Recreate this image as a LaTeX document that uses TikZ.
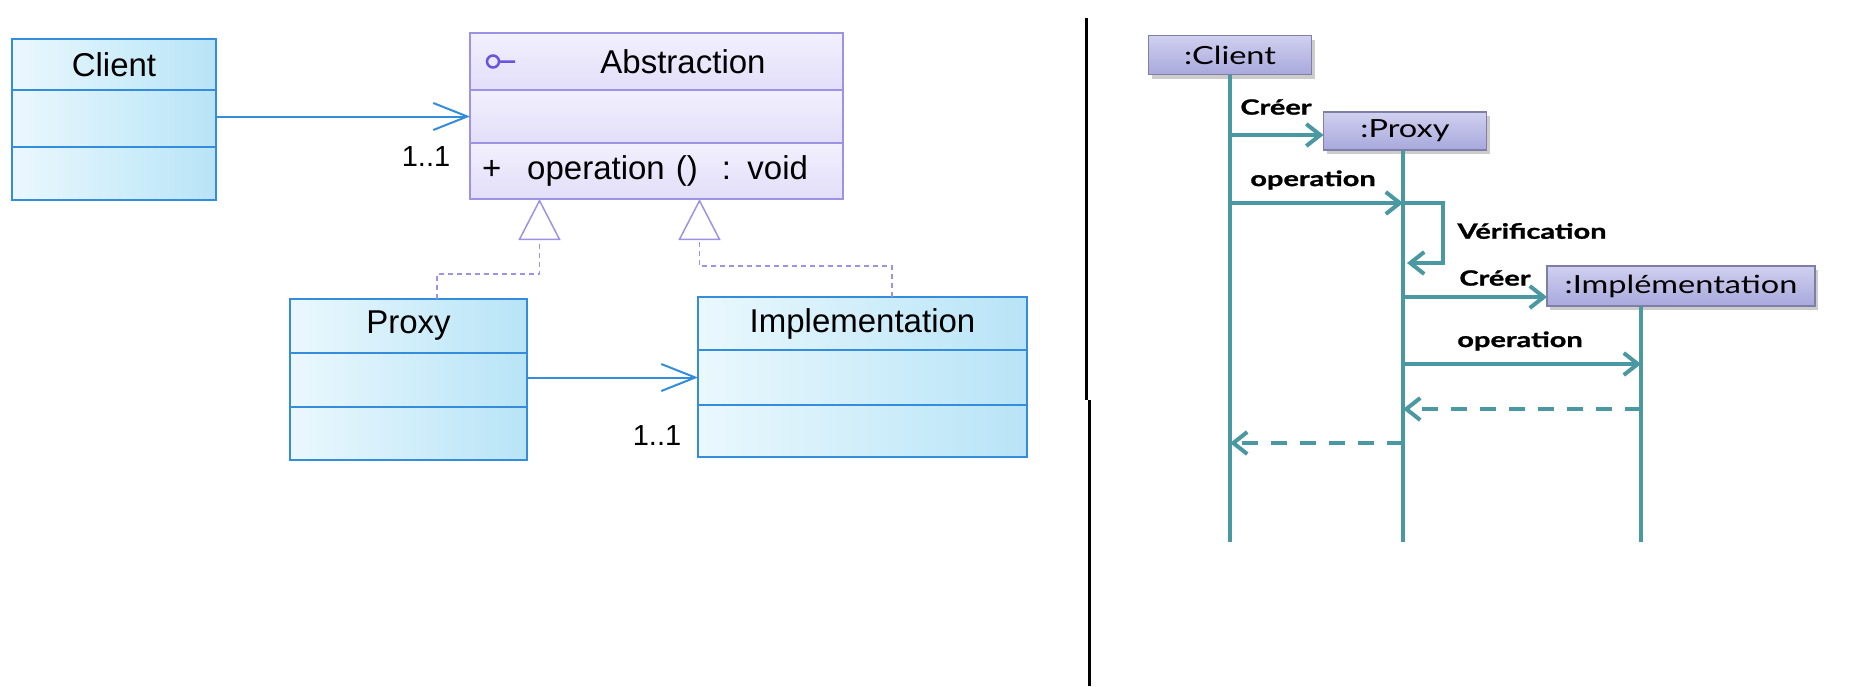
\documentclass[tikz,border=0pt]{standalone}
\usepackage{fontspec}
\setmainfont{Liberation Sans}
\newfontfamily\seqfont[FakeStretch=1.3]{Lato}
\newfontfamily\msgfont[FakeStretch=1.38,BoldFeatures={FakeBold=1.2}]{Lato}
\usetikzlibrary{arrows.meta}
\usetikzlibrary{positioning}
\usetikzlibrary{shadows}

\definecolor{clsline}{RGB}{52,140,220}
\definecolor{clslight}{RGB}{234,248,253}
\definecolor{clsdeep}{RGB}{184,228,247}
\definecolor{absline}{RGB}{158,146,230}
\definecolor{abslight}{RGB}{242,240,253}
\definecolor{absdeep}{RGB}{226,222,249}
\definecolor{absicon}{RGB}{104,84,222}
\definecolor{seqline}{RGB}{74,152,162}
\definecolor{objline}{RGB}{126,126,166}
\definecolor{objlight}{RGB}{208,208,240}
\definecolor{objdeep}{RGB}{168,168,220}

\begin{document}
\begin{tikzpicture}[x=1pt,y=-1pt]
		\tikzset{clspart/.style = {draw=clsline,line width=2pt,left color=clslight,right color=clsdeep,inner sep=0pt,outer sep=0pt,font=\fontsize{33}{36}\selectfont}}
		\tikzset{abspart/.style = {draw=absline,line width=2pt,top color=abslight,bottom color=absdeep,inner sep=0pt,outer sep=0pt,font=\fontsize{33}{36}\selectfont}}
		\tikzset{mult/.style = {font=\fontsize{29}{32}\selectfont}}
		\tikzset{assoc/.style = {draw=clsline,line width=2pt,-{Straight Barb[length=34pt,width=27pt]}}}
		\tikzset{realize/.style = {draw=absline,line width=1.5pt,dash pattern=on 5pt off 4pt,-{Triangle[open,length=41pt,width=42pt]}}}
		\tikzset{objbox/.style = {draw=objline,line width=1.5pt,top color=objlight,bottom color=objdeep,inner sep=0pt,outer sep=0pt,
			drop shadow={opacity=0.4,shadow xshift=3pt,shadow yshift=-4pt},font=\seqfont\fontsize{25}{28}\selectfont}}
		\tikzset{life/.style = {draw=seqline,line width=4pt}}
		\tikzset{msg/.style = {draw=seqline,line width=4pt,-{Straight Barb[length=14pt,width=22pt]}}}
		\tikzset{reply/.style = {msg,dash pattern=on 16pt off 13pt}}
		\tikzset{msglabel/.style = {font=\msgfont\bfseries\fontsize{21}{24}\selectfont}}
		\useasboundingbox[fill=white] (0,0) rectangle (1855,686);

		% class diagram
		\node[clspart,minimum width=204pt,minimum height=51pt,anchor=north west] (client) at (12,39) {Client};
		\node[clspart,minimum width=204pt,minimum height=57pt,below=0pt of client] (client-a) {};
		\node[clspart,minimum width=204pt,minimum height=53pt,below=0pt of client-a] (client-o) {};

		\node[abspart,minimum width=373pt,minimum height=57pt,anchor=north west] (abstr) at (470,33) {\hspace{53pt}Abstraction};
		\node[abspart,minimum width=373pt,minimum height=53pt,below=0pt of abstr] (abstr-a) {};
		\node[abspart,minimum width=373pt,minimum height=56pt,text width=349pt,inner xsep=12pt,align=left,below=0pt of abstr-a] (abstr-o)
			{+\hspace{26pt}operation ()\hspace{24pt}: void};
		\draw[draw=absicon,line width=2.5pt] ([xshift=23pt]abstr.west) circle[radius=6pt] ([xshift=29pt]abstr.west) -- ++(16,0);

		\node[clspart,minimum width=237pt,minimum height=54pt,anchor=north west] (proxy) at (290,299) {Proxy};
		\node[clspart,minimum width=237pt,minimum height=54pt,below=0pt of proxy] (proxy-a) {};
		\node[clspart,minimum width=237pt,minimum height=53pt,below=0pt of proxy-a] (proxy-o) {};

		\node[clspart,minimum width=329pt,minimum height=53pt,anchor=north west] (impl) at (698,297) {Implementation};
		\node[clspart,minimum width=329pt,minimum height=55pt,below=0pt of impl] (impl-a) {};
		\node[clspart,minimum width=329pt,minimum height=52pt,below=0pt of impl-a] (impl-o) {};

		\draw[assoc] (client-a.east |- abstr-a) -- (abstr-a.west);
		\node[mult] (m1) at (426,157) {1..1};
		\draw[assoc] (proxy-a.east |- impl-a) -- (impl-a.west);
		\node[mult] (m2) at (657,436) {1..1};

		\coordinate (gl) at (437,274);
		\coordinate (gr) at (892,266);
		\draw[realize] (proxy.north -| gl) -- (gl) -| ([xshift=-117pt]abstr-o.south);
		\draw[realize] (impl.north -| gr) -- (gr) -| ([xshift=43pt]abstr-o.south);

		% separator
		\draw[line width=3pt] (1086,18) -- (1086,400);
		\draw[line width=3pt] (1089,400) -- (1089,686);

		% sequence diagram
		\node[objbox,minimum width=163pt,minimum height=39pt] (cobj) at (1230,55) {:Client};
		\node[objbox,minimum width=163pt,minimum height=38pt] (pobj) at (1405,131) {:Proxy};
		\node[objbox,minimum width=268pt,minimum height=40pt] (iobj) at (1681,286) {:Implémentation};

		\coordinate (lc) at (1230,542);
		\coordinate (lp) at (1403,542);
		\coordinate (li) at (1641,542);
		\draw[life] (cobj.south -| lc) -- (lc);
		\draw[life] (pobj.south -| lp) -- (lp);
		\draw[life] (iobj.south -| li) -- (li);

		\coordinate (r1) at (0,135);
		\coordinate (r2) at (0,203);
		\coordinate (r3) at (0,263);
		\coordinate (r4) at (0,297);
		\coordinate (r5) at (0,364);
		\coordinate (r6) at (0,409);
		\coordinate (r7) at (0,443);
		\draw[msg] (lc |- r1) -- (pobj.west |- r1);
		\draw[msg] (lc |- r2) -- (lp |- r2);
		\draw[msg] (lp |- r2) -- ++(40,0) |- ([xshift=4pt]lp |- r3);
		\draw[msg] (lp |- r4) -- (iobj.west |- r4);
		\draw[msg] (lp |- r5) -- (li |- r5);
		\draw[reply] (li |- r6) -- (lp |- r6);
		\draw[reply] (lp |- r7) -- (lc |- r7);

		\node[msglabel] (creer1) at (1276,107) {Créer};
		\node[msglabel] (op1) at (1313,180) {operation};
		\node[msglabel] (verif) at (1532,231) {Vérification};
		\node[msglabel] (creer2) at (1495,278) {Créer};
		\node[msglabel] (op2) at (1520,341) {operation};
\end{tikzpicture}
\end{document}
